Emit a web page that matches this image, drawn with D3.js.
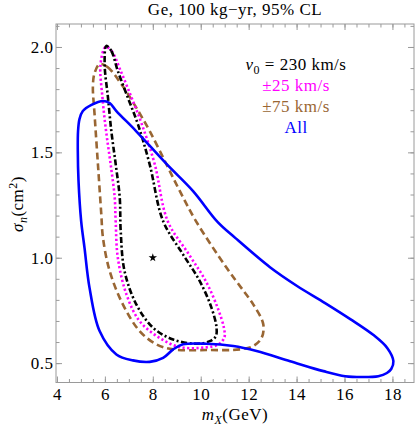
<!DOCTYPE html>
<html>
<head>
<meta charset="utf-8">
<script src="https://cdn.jsdelivr.net/npm/d3@7"></script>
<style>
  body { margin: 0; background: #fff; }
  svg { display: block; }
  svg text { font-family: "Liberation Serif", "Times New Roman", "DejaVu Serif", serif; letter-spacing: 0.5px; }
</style>
</head>
<body>
<div id="chart"></div>
<script>
// contour data: [mX (GeV), sigma_n]
const allCurve = [
  [7.87,0.506],[7.17,0.513],[6.48,0.541],[5.78,0.652],[5.36,0.857],[5.15,1.047],
  [5.01,1.174],[4.90,1.364],[4.87,1.506],[4.88,1.60],[4.94,1.658],[5.08,1.696],
  [5.44,1.725],[5.92,1.744],[6.20,1.734],[6.48,1.696],[7.31,1.60],[8.57,1.445],
  [9.68,1.316],[10.70,1.170],[11.45,1.093],[12.89,0.955],[14.02,0.866],[15.19,0.785],
  [16.24,0.709],[17.21,0.633],[17.79,0.571],[18.04,0.509],[17.95,0.472],[17.77,0.453],
  [17.41,0.438],[16.74,0.434],[16.03,0.438],[15.12,0.462],[13.73,0.509],[12.33,0.557],
  [11.36,0.581],[10.24,0.592],[9.26,0.589],[8.85,0.565],[8.43,0.525]
];
const v0Curve = [
  [6.06,2.005],[6.27,1.981],[6.54,1.886],[6.96,1.759],[7.38,1.633],[7.87,1.443],
  [8.43,1.174],[9.26,1.016],[9.96,0.889],[10.45,0.762],[10.66,0.668],[10.63,0.628],
  [10.38,0.604],[9.82,0.592],[8.85,0.612],[8.01,0.668],[7.31,0.779],[6.82,0.937],
  [6.66,1.127],[6.62,1.285],[6.45,1.445],[6.27,1.60],[6.13,1.759],[5.99,1.919]
];
const pm25Curve = [
  [6.03,2.0],[6.28,1.981],[6.66,1.886],[7.12,1.758],[7.54,1.634],[8.08,1.444],
  [8.62,1.174],[9.50,1.017],[10.21,0.889],[10.71,0.761],[10.97,0.666],[10.99,0.623],
  [10.76,0.590],[10.17,0.574],[9.13,0.576],[8.29,0.619],[7.45,0.699],[6.90,0.826],
  [6.54,1.0],[6.45,1.174],[6.41,1.285],[6.24,1.444],[6.05,1.601],[5.90,1.758],[5.82,1.919]
];
const pm75Curve = [
  [5.78,1.919],[6.11,1.905],[6.69,1.823],[7.31,1.712],[7.87,1.601],[8.57,1.443],
  [9.13,1.316],[9.80,1.174],[11.08,0.952],[11.79,0.842],[12.19,0.779],[12.61,0.684],
  [12.54,0.62],[12.19,0.581],[11.64,0.565],[10.24,0.562],[8.85,0.565],[8.15,0.589],
  [7.45,0.652],[6.75,0.779],[6.20,0.937],[5.92,1.095],[5.85,1.207],[5.71,1.443],
  [5.57,1.68],[5.50,1.815],[5.57,1.876]
];
const bestFit = [8, 1.0];

const xMajor = [4, 6, 8, 10, 12, 14, 16, 18];
const yMajor = [0.5, 1.0, 1.5, 2.0];
const legendLabels = ["= 230 km/s", "\u00b125 km/s", "\u00b175 km/s", "All"];

const serif = "'Liberation Serif', 'Times New Roman', 'DejaVu Serif', serif";
const fs = 17;
const width = 416, height = 430;
const svg = d3.select("#chart").append("svg")
    .attr("width", width).attr("height", height)
    .attr("font-family", serif);

const x = d3.scaleLinear().domain([3.96, 18.9]).range([56, 414]);
const y = d3.scaleLinear().domain([0.408, 2.109]).range([382.5, 24]);

const frameColor = "#9a9a9a";

function styleAxis(g){
    g.attr("font-family", serif).attr("font-size", fs);
    g.select(".domain").remove();
    g.selectAll("line").attr("stroke", frameColor);
    g.selectAll("text").attr("fill", "#000")
        .attr("font-family", serif)
        .attr("font-size", fs);
}

const xMinor = d3.range(4, 18.9, 0.5);
const yMinor = d3.range(0.5, 2.11, 0.1).map(v => +v.toFixed(2));

// minor ticks
svg.append("g").attr("transform", "translate(0,382.5)")
    .call(d3.axisBottom(x).tickValues(xMinor).tickSize(-3.5).tickFormat(""))
    .call(styleAxis);
svg.append("g").attr("transform", "translate(0,24)")
    .call(d3.axisTop(x).tickValues(xMinor).tickSize(-3.5).tickFormat(""))
    .call(styleAxis);
svg.append("g").attr("transform", "translate(56,0)")
    .call(d3.axisLeft(y).tickValues(yMinor).tickSize(-3.5).tickFormat(""))
    .call(styleAxis);
svg.append("g").attr("transform", "translate(414,0)")
    .call(d3.axisRight(y).tickValues(yMinor).tickSize(-3.5).tickFormat(""))
    .call(styleAxis);

// major ticks
svg.append("g").attr("transform", "translate(0,382.5)")
    .call(d3.axisBottom(x).tickValues(xMajor).tickSize(-6).tickPadding(5.5).tickFormat(d3.format("d")))
    .call(styleAxis);
svg.append("g").attr("transform", "translate(0,24)")
    .call(d3.axisTop(x).tickValues(xMajor).tickSize(-6).tickFormat(""))
    .call(styleAxis);
svg.append("g").attr("transform", "translate(56,0)")
    .call(d3.axisLeft(y).tickValues(yMajor).tickSize(-6).tickPadding(2.5).tickFormat(d3.format(".1f")))
    .call(styleAxis);
svg.append("g").attr("transform", "translate(414,0)")
    .call(d3.axisRight(y).tickValues(yMajor).tickSize(-6).tickFormat(""))
    .call(styleAxis);

svg.append("rect")
    .attr("x", 56).attr("y", 24).attr("width", 358).attr("height", 358.5)
    .attr("fill", "none").attr("stroke", frameColor).attr("stroke-width", 1);

// contours
const line = d3.line()
    .x(d => x(d[0])).y(d => y(d[1]))
    .curve(d3.curveCatmullRomClosed.alpha(0.5));

const series = [
    {data: pm75Curve, color: "#996633", dash: "7,4"},
    {data: pm25Curve, color: "#ff00ff", dash: "2.2,2.4"},
    {data: v0Curve, color: "#000000", dash: "6,2.5,2,2.5"},
    {data: allCurve, color: "#0000ff", dash: null}
];

svg.append("g").selectAll("path").data(series).join("path")
    .attr("d", d => line(d.data))
    .attr("fill", "none")
    .attr("stroke", d => d.color)
    .attr("stroke-width", 2.6)
    .attr("stroke-dasharray", d => d.dash);

svg.append("path")
    .attr("d", d3.symbol(d3.symbolStar).size(22)())
    .attr("transform", `translate(${x(bestFit[0])},${y(bestFit[1])})`)
    .attr("fill", "#000");

// title
svg.append("text")
    .attr("x", 235).attr("y", 14.5)
    .attr("text-anchor", "middle")
    .attr("font-size", fs)
    .text("Ge, 100 kg\u2212yr, 95% CL");

// legend
const legendColors = ["#000000", "#ff00ff", "#996633", "#0000ff"];
const lg = svg.append("g").attr("font-size", fs).attr("text-anchor", "middle");
legendLabels.forEach((lab, i) => {
    const t = lg.append("text")
        .attr("x", 296).attr("y", 69.5 + i * 21.3)
        .attr("fill", legendColors[i]);
    if (i === 0) {
        t.append("tspan").attr("font-style", "italic").text("v");
        t.append("tspan").attr("dy", 4).attr("font-size", 12).text("0");
        t.append("tspan").attr("dy", -4).text(" " + lab);
    } else {
        t.text(lab);
    }
});

// axis labels
const xl = svg.append("text")
    .attr("x", 235).attr("y", 420)
    .attr("text-anchor", "middle")
    .attr("font-size", fs);
xl.append("tspan").attr("font-style", "italic").text("m");
xl.append("tspan").attr("dy", 4).attr("font-style", "italic").attr("font-size", 12).text("X");
xl.append("tspan").attr("dy", -4).text("(GeV)");

const yl = svg.append("text")
    .attr("transform", "translate(23,204) rotate(-90)")
    .attr("text-anchor", "middle")
    .attr("font-size", fs);
yl.append("tspan").attr("font-style", "italic").text("\u03c3");
yl.append("tspan").attr("dy", 4).attr("font-style", "italic").attr("font-size", 12).text("n");
yl.append("tspan").attr("dy", -4).text("(cm");
yl.append("tspan").attr("dy", -6).attr("font-size", 12).text("2");
yl.append("tspan").attr("dy", 6).text(")");
</script>
</body>
</html>
